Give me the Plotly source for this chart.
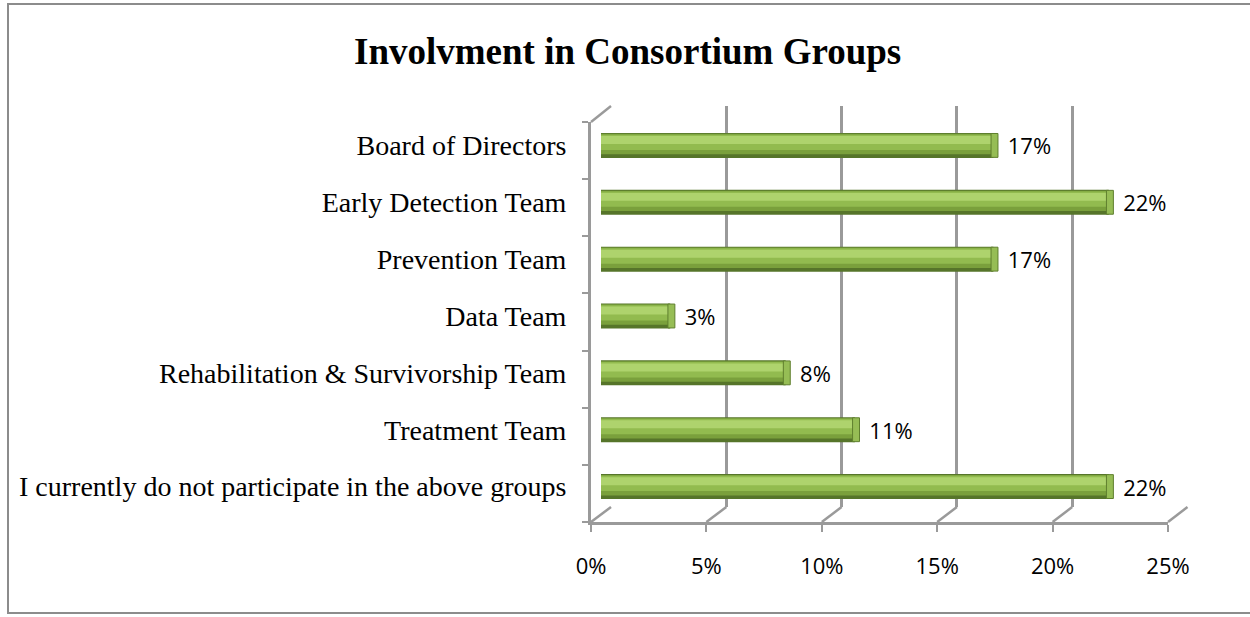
import plotly.graph_objects as go

# Survey results: share of respondents involved in each consortium group
categories = [
    "Board of Directors",
    "Early Detection Team",
    "Prevention Team",
    "Data Team",
    "Rehabilitation & Survivorship Team",
    "Treatment Team",
    "I currently do not participate in the above groups",
]
values = [17, 22, 17, 3, 8, 11, 22]
ticks = [0, 5, 10, 15, 20, 25]
title = "Involvment in Consortium Groups"

W, H = 1250, 617


def fx(p):
    return p / W


def fy(p):
    return 1 - p / H


# pixel frames of the pseudo-3D box: back wall, bar plane, front edge
BACK_X, BACK_Y = (611, 1187.5), (106, 507)
MID_X, MID_Y = (601, 1178), (117, 515)
FRONT_X, FRONT_Y = (591, 1168), (122, 522)
GRID = "#9a9a9a"

fig = go.Figure()

# cylinder shading: stacked overlays from dark rim to light highlight
layers = [
    (-0.22, 0.44, "#56752a"),
    (-0.205, 0.36, "#7aa03c"),
    (-0.19, 0.27, "#92bb4f"),
    (-0.165, 0.14, "#aed36d"),
]
for i, (off, wid, col) in enumerate(layers):
    fig.add_trace(go.Bar(
        x=values, y=categories, orientation="h",
        offset=off, width=wid,
        marker=dict(color=col, line=dict(width=0)),
        text=[f"\u00a0\u00a0{v}%" for v in values] if i == 0 else None,
        textposition="outside" if i == 0 else "none",
        constraintext="none",
        textfont=dict(family="Open Sans", size=22, color="#000000"),
        cliponaxis=False,
        xaxis="x2", yaxis="y2", showlegend=False, hoverinfo="skip",
    ))

# rounded end caps of the cylinders
fig.add_trace(go.Bar(
    x=[0.3] * len(values), base=[v - 0.1 for v in values], y=categories,
    orientation="h", offset=-0.21, width=0.42,
    marker=dict(color="#96bd55", line=dict(color="#5f7f2e", width=1)),
    xaxis="x2", yaxis="y2", showlegend=False, hoverinfo="skip",
))

# invisible traces so the back and front axes get drawn
fig.add_trace(go.Scatter(x=[0, 25], y=[0, 7], mode="markers",
                         marker=dict(opacity=0), xaxis="x", yaxis="y",
                         showlegend=False, hoverinfo="skip"))
fig.add_trace(go.Scatter(x=[0, 25], y=[0, 7], mode="markers",
                         marker=dict(opacity=0), xaxis="x3", yaxis="y3",
                         showlegend=False, hoverinfo="skip"))

shapes = []
# outer chart frame
shapes.append(dict(type="rect", xref="paper", yref="paper",
                   x0=fx(8), x1=fx(1260), y0=fy(613), y1=fy(4),
                   line=dict(color="#8c8c8c", width=2)))
# floor depth edges from each front tick to the back wall
for t in ticks:
    xf = FRONT_X[0] + t / 25 * (FRONT_X[1] - FRONT_X[0])
    xb = BACK_X[0] + t / 25 * (BACK_X[1] - BACK_X[0])
    shapes.append(dict(type="line", xref="paper", yref="paper",
                       x0=fx(xf), y0=fy(FRONT_Y[1]), x1=fx(xb), y1=fy(BACK_Y[1]),
                       line=dict(color=GRID, width=2.5), layer="below"))
# top edge of the left wall
shapes.append(dict(type="line", xref="paper", yref="paper",
                   x0=fx(FRONT_X[0]), y0=fy(FRONT_Y[0]), x1=fx(BACK_X[0]), y1=fy(BACK_Y[0]),
                   line=dict(color=GRID, width=2.5), layer="below"))

fig.update_layout(
    width=W, height=H,
    margin=dict(l=0, r=0, t=0, b=0, pad=0, autoexpand=False),
    paper_bgcolor="#ffffff", plot_bgcolor="rgba(0,0,0,0)",
    barmode="overlay",
    shapes=shapes,
    annotations=[dict(text=f"<b>{title}</b>", xref="paper", yref="paper",
                      x=fx(627.5), y=fy(51), xanchor="center", yanchor="middle",
                      showarrow=False,
                      font=dict(family="Liberation Serif", size=37, color="#000000"))],
    # back wall gridlines
    xaxis=dict(domain=[fx(BACK_X[0]), fx(BACK_X[1])], range=[0, 25], automargin=False,
               tickvals=ticks, showgrid=True, gridcolor=GRID, gridwidth=3,
               showticklabels=False, zeroline=False, showline=False, ticks=""),
    yaxis=dict(domain=[fy(BACK_Y[1]), fy(BACK_Y[0])], range=[0, 7], automargin=False,
               showgrid=False, showticklabels=False, zeroline=False, anchor="x"),
    # bar plane
    xaxis2=dict(domain=[fx(MID_X[0]), fx(MID_X[1])], range=[0, 25], anchor="y2",
                automargin=False,
                showgrid=False, showticklabels=False, zeroline=False, showline=False),
    yaxis2=dict(domain=[fy(MID_Y[1]), fy(MID_Y[0])], anchor="x2", automargin=False,
                categoryorder="array", categoryarray=categories,
                autorange="reversed", showgrid=False, zeroline=False,
                ticks="outside", ticklen=28, tickcolor="rgba(0,0,0,0)",
                tickfont=dict(family="Liberation Serif", size=28, color="#000000")),
    # front edges with ticks and percentage labels
    xaxis3=dict(domain=[fx(FRONT_X[0]), fx(FRONT_X[1])], range=[0, 25], anchor="y3",
                automargin=False,
                tickvals=ticks, ticktext=[f"{t}%" for t in ticks],
                showgrid=False, zeroline=False, showline=True,
                linecolor=GRID, linewidth=2.5, ticks="outside", ticklen=7,
                tickcolor=GRID, tickwidth=2, ticklabelstandoff=16,
                tickfont=dict(family="Open Sans", size=22, color="#000000")),
    yaxis3=dict(domain=[fy(FRONT_Y[1]), fy(FRONT_Y[0])], range=[0, 7], anchor="x3",
                automargin=False,
                tickvals=list(range(8)), showticklabels=False,
                showgrid=False, zeroline=False, showline=True,
                linecolor=GRID, linewidth=2.5, ticks="outside", ticklen=6,
                tickcolor=GRID, tickwidth=2),
)

fig.write_html("out.html")
